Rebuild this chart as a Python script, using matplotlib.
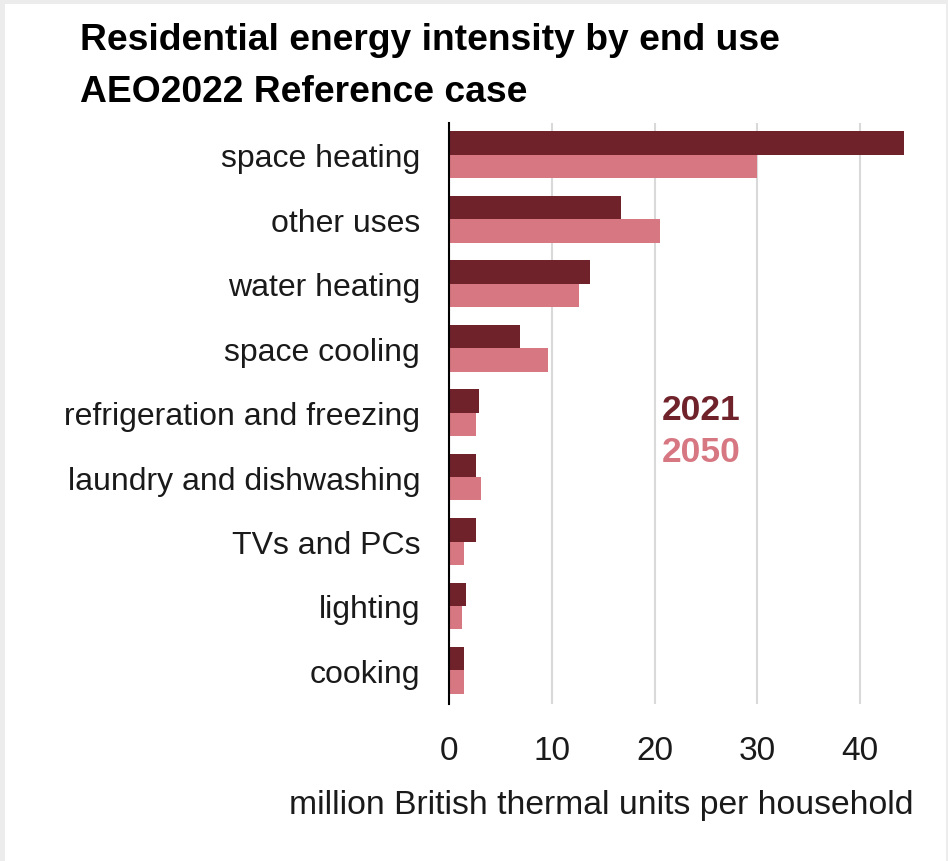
import numpy as np
import matplotlib.pyplot as plt
from matplotlib.patches import Rectangle

plt.rcParams['font.family'] = ['Liberation Sans', 'DejaVu Sans']

categories = ["space heating", "other uses", "water heating", "space cooling",
              "refrigeration and freezing", "laundry and dishwashing",
              "TVs and PCs", "lighting", "cooking"]
values_2021 = [44.3, 16.7, 13.7, 6.9, 2.9, 2.6, 2.6, 1.6, 1.4]
values_2050 = [30.0, 20.5, 12.6, 9.6, 2.6, 3.1, 1.4, 1.2, 1.4]
years = ["2021", "2050"]
xticks = [0, 10, 20, 30, 40]

dark = "#70222b"
light = "#d67782"

fig = plt.figure(figsize=(9.48, 8.62), dpi=100)
fig.patch.set_facecolor("#ececec")
fig.patches.append(Rectangle((5 / 948, 0), 941 / 948, 857 / 862, transform=fig.transFigure,
                             facecolor="white", edgecolor="none", zorder=-5))

ax = fig.add_axes([449.3 / 948, 1 - 705 / 862, 462 / 948, 581 / 862])
ax.set_facecolor("none")

y = np.arange(len(categories))
h = 0.364
ax.barh(y - h / 2, values_2021, height=h, color=dark, zorder=3)
ax.barh(y + h / 2, values_2050, height=h, color=light, zorder=3)

ax.set_ylim(len(categories) - 0.48, -0.49)
ax.set_xlim(0, 45)
ax.set_yticks(y)
ax.set_yticklabels(categories, fontsize=23, color="#1a1a1a")
ax.set_xticks(xticks)
ax.set_xticklabels([str(t) for t in xticks], fontsize=24, color="#1a1a1a")
ax.tick_params(axis="y", length=0, pad=21)
ax.tick_params(axis="x", length=0, pad=22)
ax.grid(axis="x", color="#d9d9d9", linewidth=1.5, zorder=0)
for s in ["top", "right", "bottom"]:
    ax.spines[s].set_visible(False)
ax.spines["left"].set_color("black")
ax.spines["left"].set_linewidth(1.5)
ax.spines["left"].set_zorder(4)

fig.text(601 / 948, 1 - 806 / 862, "million British thermal units per household",
         fontsize=24.3, color="#1a1a1a", ha="center", va="center")

fig.text(80 / 948, 1 - 40 / 862, "Residential energy intensity by end use",
         fontsize=26.8, fontweight="bold", ha="left", va="center")
fig.text(80 / 948, 1 - 92 / 862, "AEO2022 Reference case",
         fontsize=26.8, fontweight="bold", ha="left", va="center")

fig.text(662 / 948, 1 - 411 / 862, years[0], fontsize=25.5, fontweight="bold",
         color=dark, ha="left", va="center")
fig.text(662 / 948, 1 - 453 / 862, years[1], fontsize=25.5, fontweight="bold",
         color=light, ha="left", va="center")

fig.savefig("out.png", dpi=100, facecolor=fig.get_facecolor())
